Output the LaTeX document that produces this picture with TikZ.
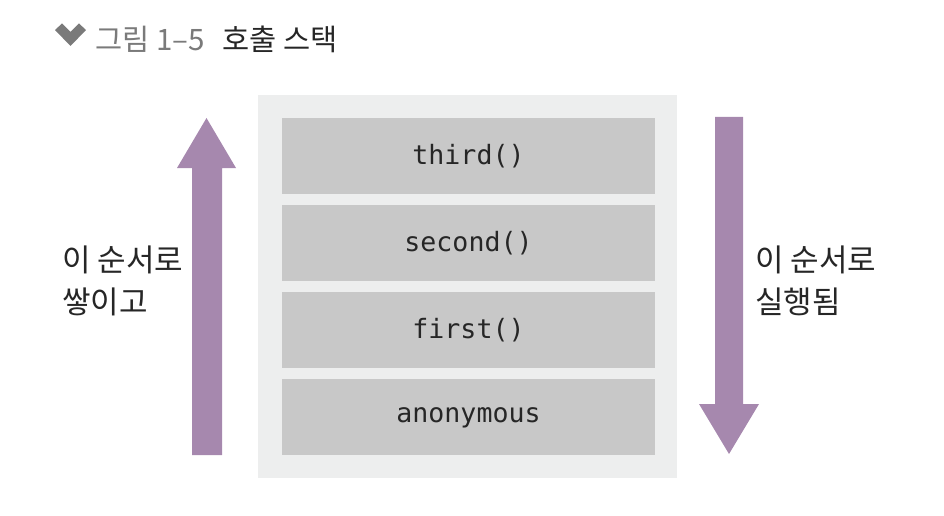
\documentclass[tikz,border=0pt]{standalone}
\usepackage{fontspec}
\setmainfont{Noto Sans CJK KR}
\newfontfamily\codefont{DejaVu Sans Mono}
\usetikzlibrary{positioning}

\definecolor{arrowpurple}{HTML}{A688AE}
\definecolor{boxgray}{HTML}{C8C8C8}
\definecolor{backgray}{HTML}{EDEEEE}
\definecolor{titlegray}{HTML}{7A7A7A}

\tikzset{
  stackbox/.style={fill=boxgray,minimum width=373pt,minimum height=76pt,
    inner sep=0pt,outer sep=0pt,text=black!85,text depth=0.4em,
    font=\codefont\fontsize{26.6}{30}\selectfont},
  sidetext/.style={anchor=west,align=left,inner sep=0pt,text=black!85,
    font=\fontsize{31}{42}\selectfont},
}

\begin{document}
\begin{tikzpicture}[x=1pt,y=-1pt]
      \useasboundingbox (0,0) rectangle (944,516);

      % title
      \fill[titlegray] (55,30) -- (62,23.5) -- (70.5,32) -- (79,23.5) -- (86,30) -- (70.5,46) -- cycle;
      \node[anchor=west,inner sep=0pt,font=\fontsize{29.5}{34}\selectfont] (title) at (95,39)
        {\textcolor{titlegray}{그림 1–5}\hspace{18pt}\textcolor{black!85}{호출 스택}};

      % stack
      \fill[backgray] (258,95) rectangle (677,478);
      \node[stackbox] (1) at (468.5,156) {third()};
      \node[stackbox,below=11pt of 1] (2) {second()};
      \node[stackbox,below=11pt of 2] (3) {first()};
      \node[stackbox,below=11pt of 3] (4) {anonymous};

      % arrows
      \fill[arrowpurple] (192,455) -- (192,168) -- (177,168) -- (206.5,118)
        -- (236,168) -- (222,168) -- (222,455) -- cycle;
      \fill[arrowpurple] (715,117) -- (715,404) -- (699,404) -- (729,454)
        -- (759,404) -- (743,404) -- (743,117) -- cycle;

      \node[sidetext] (push) at (62,281) {이 순서로\\쌓이고};
      \node[sidetext] (run) at (755,281) {이 순서로\\실행됨};
    \end{tikzpicture}
\end{document}
